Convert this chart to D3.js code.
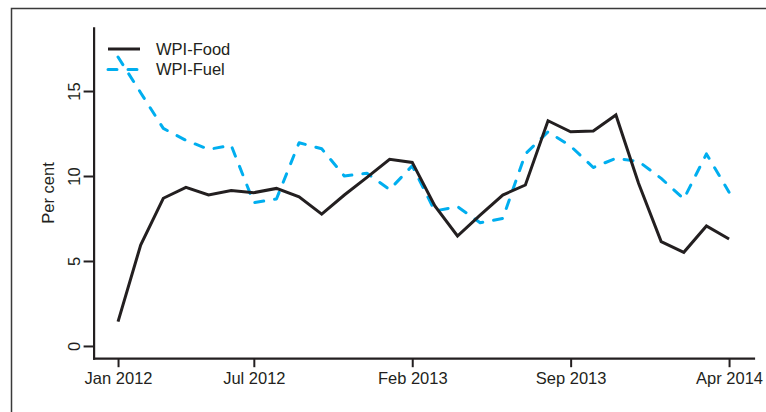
<!DOCTYPE html>
<html>
<head>
<meta charset="utf-8">
<script src="https://cdn.jsdelivr.net/npm/d3@7"></script>
<style>
  html, body { margin: 0; padding: 0; background: #fff; }
  svg { display: block; font-family: "Liberation Sans", Arial, Helvetica, sans-serif; }
</style>
</head>
<body>
<svg id="chart" width="766" height="412"></svg>
<script>
// Monthly year-on-year WPI inflation, Jan 2012 .. Apr 2014 (per cent)
const months = ["Jan 2012","Feb 2012","Mar 2012","Apr 2012","May 2012","Jun 2012","Jul 2012",
  "Aug 2012","Sep 2012","Oct 2012","Nov 2012","Dec 2012","Jan 2013","Feb 2013","Mar 2013",
  "Apr 2013","May 2013","Jun 2013","Jul 2013","Aug 2013","Sep 2013","Oct 2013","Nov 2013",
  "Dec 2013","Jan 2014","Feb 2014","Mar 2014","Apr 2014"];

const wpiFood = [1.43, 5.94, 8.69, 9.33, 8.88, 9.14, 9.02, 9.27, 8.78, 7.76, 8.88, 9.92, 10.98, 10.8,
  8.24, 6.47, 7.7, 8.88, 9.47, 13.25, 12.6, 12.65, 13.59, 9.57, 6.14, 5.51, 7.06, 6.29];

const wpiFuel = [17.0, 14.9, 12.8, 12.1, 11.57, 11.8, 8.43, 8.65, 11.96, 11.6, 10.0, 10.16, 9.2, 10.6,
  7.94, 8.2, 7.25, 7.5, 11.3, 12.6, 11.76, 10.5, 11.04, 10.86, 9.86, 8.65, 11.3, 9.05];

const xTickLabels = ["Jan 2012", "Jul 2012", "Feb 2013", "Sep 2013", "Apr 2014"];
const yTicks = [0, 5, 10, 15];

const seriesNames = ["WPI-Food", "WPI-Fuel"];
const ink = "#231f20";
const fuelBlue = "#00aeef";

const svg = d3.select("#chart");

// outer frame
svg.append("rect")
  .attr("x", 11.5).attr("y", 8.5)
  .attr("width", 800).attr("height", 420)
  .attr("fill", "none").attr("stroke", "#3a3a3a").attr("stroke-width", 1.5);

// axis limits padded 4% beyond the data range
const xPad = (months.length - 1) * 0.04;
const x = d3.scaleLinear()
  .domain([-xPad, months.length - 1 + xPad])
  .range([93.6, 753.5]);
const y = d3.scaleLinear()
  .domain([-0.72, 18.72])
  .range([358.2, 27.8]);

const fontSize = 16.5;

// x axis
const xAxis = d3.axisBottom(x)
  .tickValues(xTickLabels.map(l => months.indexOf(l)))
  .tickFormat(i => months[i])
  .tickSizeInner(9).tickSizeOuter(0).tickPadding(5);
const gx = svg.append("g").attr("transform", `translate(0,${y.range()[0]})`).call(xAxis);
gx.select(".domain").attr("stroke", ink).attr("stroke-width", 2.2).attr("stroke-linecap", "square");
gx.selectAll(".tick line").attr("stroke", ink).attr("stroke-width", 2);
gx.selectAll(".tick text").attr("fill", ink).style("font-size", fontSize + "px")
  .style("font-family", "Liberation Sans, Arial, sans-serif");

// y axis with labels parallel to the axis
const yAxis = d3.axisLeft(y).tickValues(yTicks).tickSizeInner(10).tickSizeOuter(0);
const gy = svg.append("g").attr("transform", `translate(${x.range()[0]},0)`).call(yAxis);
gy.select(".domain").attr("stroke", ink).attr("stroke-width", 2.2).attr("stroke-linecap", "square");
gy.selectAll(".tick line").attr("stroke", ink).attr("stroke-width", 2);
gy.selectAll(".tick text")
  .attr("x", 0).attr("dy", "0.36em")
  .attr("text-anchor", "middle")
  .attr("transform", "translate(-20,0) rotate(-90)")
  .attr("fill", ink).style("font-size", fontSize + "px")
  .style("font-family", "Liberation Sans, Arial, sans-serif");

// y axis title
svg.append("text")
  .attr("transform", `translate(48,${(y.range()[0] + y.range()[1]) / 2}) rotate(-90)`)
  .attr("text-anchor", "middle").attr("dy", "0.36em")
  .attr("fill", ink).style("font-size", fontSize + "px")
  .text("Per cent");

const line = d3.line().x((d, i) => x(i)).y(d => y(d));

svg.append("path")
  .datum(wpiFuel)
  .attr("d", line)
  .attr("fill", "none").attr("stroke", fuelBlue).attr("stroke-width", 3)
  .attr("stroke-dasharray", "9,11").attr("stroke-linecap", "round").attr("stroke-linejoin", "round");

svg.append("path")
  .datum(wpiFood)
  .attr("d", line)
  .attr("fill", "none").attr("stroke", ink).attr("stroke-width", 3)
  .attr("stroke-linejoin", "miter");

// legend
const legend = svg.append("g");
const legendRows = [
  { name: seriesNames[0], color: ink, dash: null, cap: "butt" },
  { name: seriesNames[1], color: fuelBlue, dash: "9,11", cap: "round" }
];
legendRows.forEach((r, k) => {
  const ly = 49 + k * 20.5;
  legend.append("line")
    .attr("x1", 108).attr("x2", 140).attr("y1", ly).attr("y2", ly)
    .attr("stroke", r.color).attr("stroke-width", 3)
    .attr("stroke-linecap", r.cap)
    .attr("stroke-dasharray", r.dash);
  legend.append("text")
    .attr("x", 156).attr("y", ly).attr("dy", "0.36em")
    .attr("fill", ink).style("font-size", fontSize + "px")
    .text(r.name);
});
</script>
</body>
</html>
